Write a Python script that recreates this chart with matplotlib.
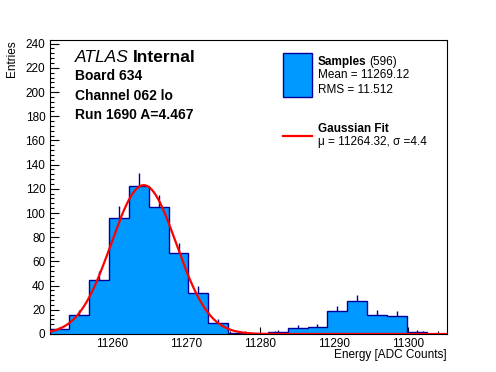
import numpy as np
import matplotlib
matplotlib.use("Agg")
import matplotlib.pyplot as plt
from matplotlib.patches import Rectangle
from matplotlib.lines import Line2D

plt.rcParams['font.family'] = ['Liberation Sans', 'DejaVu Sans']

# histogram data (20 bins between the min and max energy)
x_lo = 11251.6
x_hi = 11305.2
n_bins = 20
counts = [4, 16, 45, 96, 122, 105, 67, 34, 9, 1, 0, 2, 5, 6, 19, 27, 16, 15, 2, 0]

# gaussian fit parameters
fit_mu = 11264.32
fit_sigma = 4.4
fit_amp = 123.0

# legend / label texts
n_samples = 596
mean_val = 11269.12
rms_val = 11.512

W, H = 496, 372
fig = plt.figure(figsize=(W / 100, H / 100), dpi=100)
renderer = fig.canvas.get_renderer()

def fx(x):
    return x / W

def fy(y):
    return 1 - y / H

def text_after(prev, gap, s, **kw):
    # put a text right after another one, on the same line
    x1 = prev.get_window_extent(renderer).x1
    x, y = prev.get_position()
    return fig.text(fx(x1 + gap), y, s, **kw)

# axes frame in pixels: left 49.5, right 446.5, top 40, bottom 334
ax = fig.add_axes([fx(49.5), fy(334), (446.5 - 49.5) / W, (334 - 40) / H])

edges = np.linspace(x_lo, x_hi, n_bins + 1)
centers = 0.5 * (edges[:-1] + edges[1:])
counts = np.array(counts, dtype=float)

fill_col = '#0099ff'
edge_col = '#000099'

# error bars underneath, so only the upper half shows
ax.errorbar(centers, counts, yerr=np.sqrt(counts), fmt='none', ecolor=edge_col,
            elinewidth=1.0, capsize=0, zorder=1)
ax.stairs(counts, edges, fill=True, facecolor=fill_col, edgecolor=edge_col,
          linewidth=1.0, zorder=2)

# gaussian fit curve
xf = np.linspace(x_lo, x_hi, 400)
yf = fit_amp * np.exp(-0.5 * ((xf - fit_mu) / fit_sigma) ** 2)
ax.plot(xf, yf, color='#ff0000', linewidth=1.6, zorder=3)

ax.set_xlim(x_lo, x_hi)
ax.set_ylim(0, 243)

ax.set_xticks(np.arange(11260, 11301, 10))
ax.set_xticks(np.arange(11252, 11306, 2), minor=True)
ax.set_yticks(np.arange(0, 241, 20))
ax.set_yticks(np.arange(0, 243, 4), minor=True)

ax.tick_params(axis='both', which='both', direction='in', top=False, right=False,
               labelsize=8.5, width=0.8, pad=3)
ax.tick_params(axis='x', which='major', length=5)
ax.tick_params(axis='x', which='minor', length=2.5)
ax.tick_params(axis='y', which='major', length=6.5)
ax.tick_params(axis='y', which='minor', length=3.2)
for s in ax.spines.values():
    s.set_linewidth(0.8)

# axis titles (ROOT style: at the ends)
fig.text(fx(11.5), fy(40), 'Entries', rotation=90, ha='center', va='top', fontsize=8.5)
fig.text(fx(446.5), fy(355), 'Energy [ADC Counts]', ha='right', va='center', fontsize=8.5)

# ATLAS label block
t = fig.text(fx(75), fy(57), 'ATLAS', style='italic', fontsize=12.5, va='center')
text_after(t, 4, 'Internal', fontweight='bold', fontsize=12.5, va='center')
fig.text(fx(75), fy(76), 'Board 634', fontweight='bold', fontsize=10, va='center')
fig.text(fx(75), fy(96), 'Channel 062 lo', fontweight='bold', fontsize=10, va='center')
fig.text(fx(75), fy(115), 'Run 1690 A=4.467', fontweight='bold', fontsize=10, va='center')

# legend
fig.patches.append(Rectangle((fx(283), fy(97)), (312 - 283) / W, (97 - 53) / H,
                             transform=fig.transFigure, facecolor=fill_col,
                             edgecolor=edge_col, linewidth=1.0))
fig.lines.append(Line2D([fx(283), fx(312)], [fy(136), fy(136)], transform=fig.transFigure,
                        color='#ff0000', linewidth=1.6))
t = fig.text(fx(318), fy(62), 'Samples', fontweight='bold', fontsize=8.5, va='center')
text_after(t, 3, '(%d)' % n_samples, fontsize=8.5, va='center')
fig.text(fx(318), fy(75), 'Mean = %.2f' % mean_val, fontsize=8.5, va='center')
fig.text(fx(318), fy(90), 'RMS = %.3f' % rms_val, fontsize=8.5, va='center')
fig.text(fx(318), fy(129), 'Gaussian Fit', fontweight='bold', fontsize=8.5, va='center')
fig.text(fx(318), fy(142), '\u03bc = %.2f, \u03c3 =%.1f' % (fit_mu, fit_sigma),
         fontsize=8.5, va='center')

fig.savefig('out.png', dpi=100)
